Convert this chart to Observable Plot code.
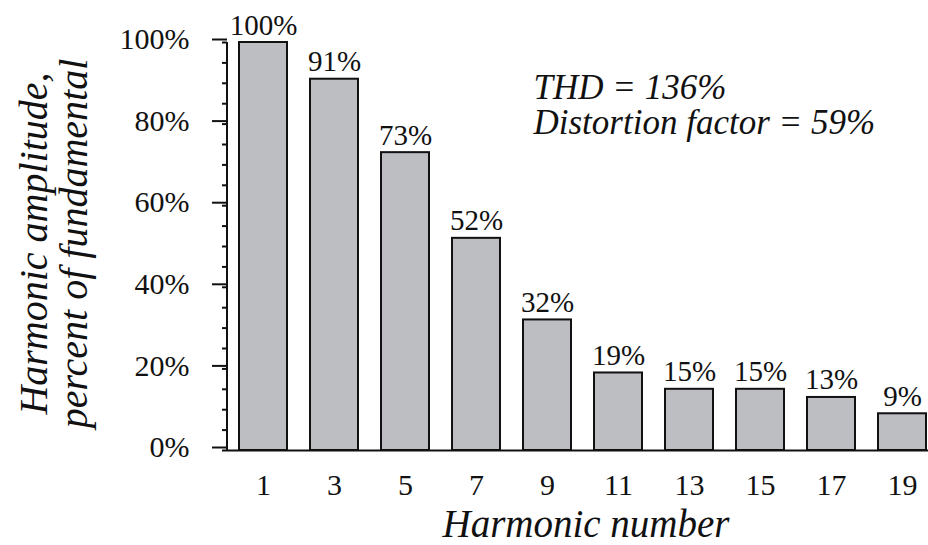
<!DOCTYPE html>
<html>
<head>
<meta charset="utf-8">
<script src="https://cdn.jsdelivr.net/npm/d3@7"></script>
<script src="https://cdn.jsdelivr.net/npm/@observablehq/plot@0.6"></script>
<style>
  html, body { margin: 0; padding: 0; background: #fff; }
</style>
</head>
<body>
<div id="chart"></div>
<script>
// Data
const harmonics = ["1", "3", "5", "7", "9", "11", "13", "15", "17", "19"];
const amplitudes = [100, 91, 73, 52, 32, 19, 15, 15, 13, 9];
const barLabels = ["100%", "91%", "73%", "52%", "32%", "19%", "15%", "15%", "13%", "9%"];
const majorTicks = [0, 20, 40, 60, 80, 100];
const minorTicks = d3.range(0, 101, 5);
const annotationLines = ["THD = 136%", "Distortion factor = 59%"];
const xTitle = "Harmonic number";
const yTitleLines = ["Harmonic amplitude,", "percent of fundamental"];

const data = harmonics.map((h, i) => ({h, v: amplitudes[i], label: barLabels[i]}));

const yAxisLine = (index, scales, values, dims) => {
  const l = d3.create("svg:line")
    .attr("x1", dims.marginLeft).attr("x2", dims.marginLeft)
    .attr("y1", scales.y(0)).attr("y2", scales.y(100))
    .attr("stroke", "#111").attr("stroke-width", 2);
  return l.node();
};

const chart = Plot.plot({
  width: 928,
  height: 545,
  marginLeft: 227,
  marginRight: 0,
  marginTop: 42,
  marginBottom: 95,
  style: {fontFamily: "'Liberation Serif', 'Times New Roman', serif", fontSize: "30px", color: "#111", background: "#fff"},
  x: {type: "band", domain: harmonics, paddingInner: 0.324, paddingOuter: 0.0986, align: 0.857},
  y: {domain: [0, 100]},
  marks: [
    Plot.barY(data, {x: "h", y: "v", fill: "#bdbec2", stroke: "#111", strokeWidth: 2}),
    Plot.ruleY([0], {stroke: "#111", strokeWidth: 2}),
    yAxisLine,
    Plot.axisY({ticks: minorTicks, tickSize: 5, tickFormat: () => "", label: null, strokeWidth: 2}),
    Plot.axisY({ticks: majorTicks, tickSize: 15, tickPadding: 23, tickFormat: d => d + "%", label: null, strokeWidth: 2, fontSize: 30, dy: -3}),
    Plot.axisX({tickSize: 0, tickPadding: 23, label: null, fontSize: 30}),
    Plot.text(data, {x: "h", y: "v", text: "label", lineAnchor: "bottom", dy: -8, fontSize: 29}),
    Plot.text([annotationLines[0]], {frameAnchor: "top-left", dx: 306, dy: 56, lineAnchor: "bottom", textAnchor: "start", fontSize: 35, fontStyle: "italic"}),
    Plot.text([annotationLines[1]], {frameAnchor: "top-left", dx: 306, dy: 91, lineAnchor: "bottom", textAnchor: "start", fontSize: 35, fontStyle: "italic"}),
    Plot.text([xTitle], {frameAnchor: "bottom", dx: 8, dy: 86, lineAnchor: "bottom", fontSize: 39, fontStyle: "italic"}),
    Plot.text([yTitleLines.join("\n")], {frameAnchor: "left", dx: -209, dy: -3, rotate: -90, textAnchor: "middle", lineAnchor: "top", lineHeight: 1, fontSize: 40, fontStyle: "italic"})
  ]
});
document.getElementById("chart").appendChild(chart);
</script>
</body>
</html>
